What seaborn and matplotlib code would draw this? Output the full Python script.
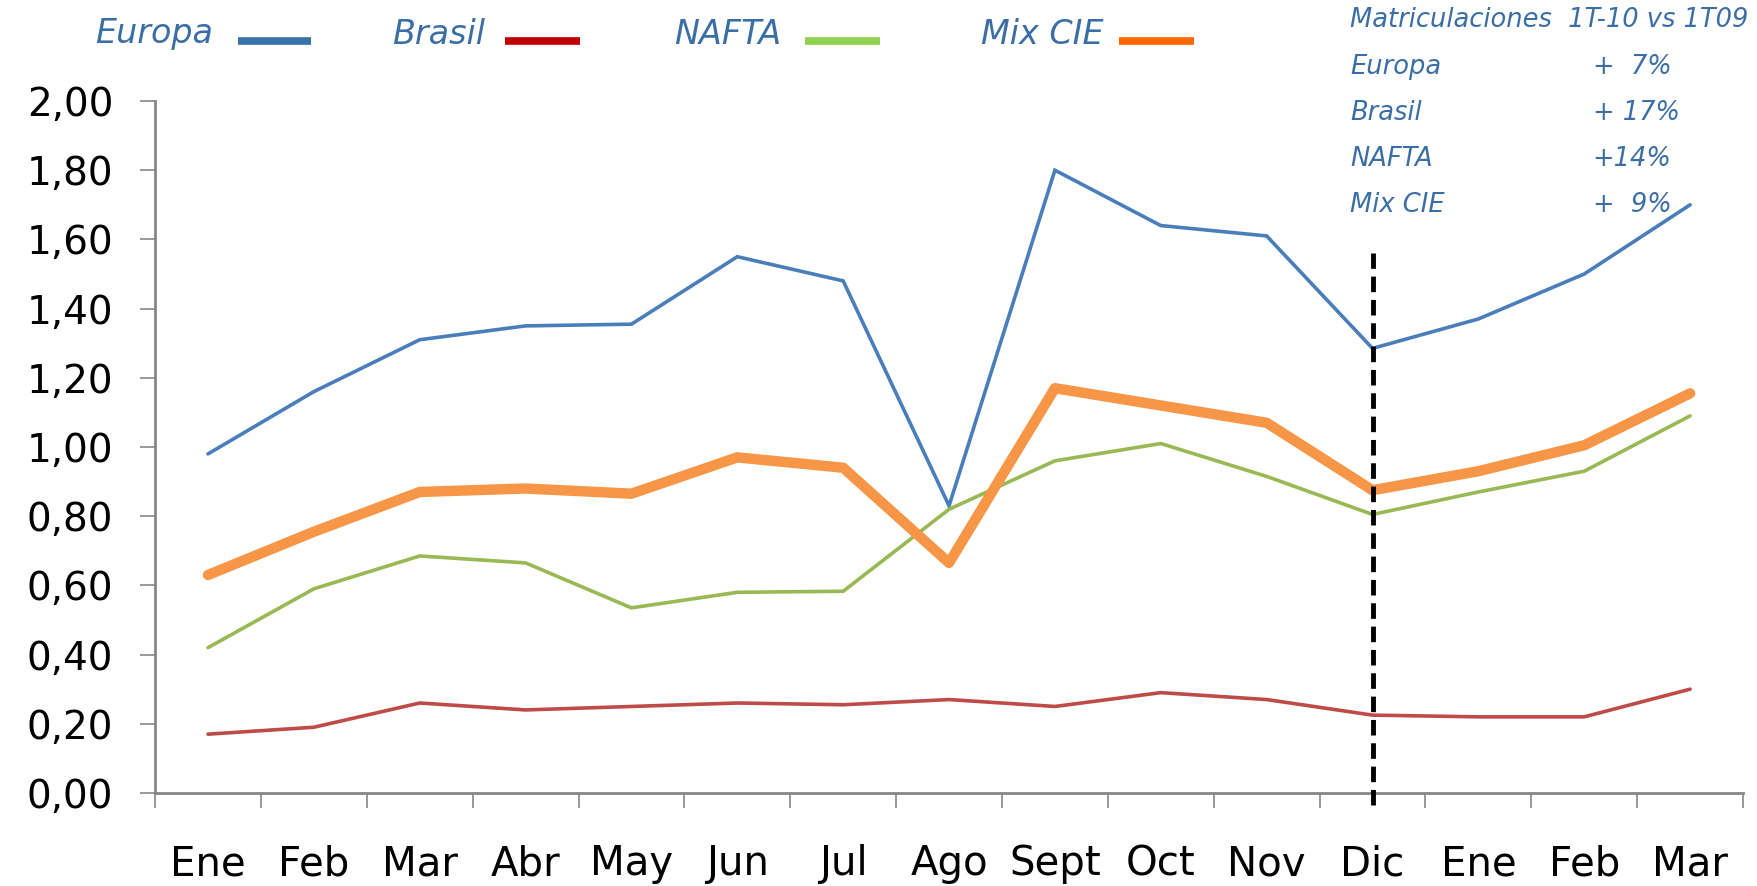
import matplotlib
matplotlib.use("Agg")
import matplotlib.pyplot as plt
from matplotlib.lines import Line2D
import seaborn as sns
import numpy as np
import pandas as pd

months = ["Ene", "Feb", "Mar", "Abr", "May", "Jun", "Jul", "Ago", "Sept",
          "Oct", "Nov", "Dic", "Ene", "Feb", "Mar"]
europa = [0.98, 1.16, 1.31, 1.35, 1.355, 1.55, 1.48, 0.83, 1.80, 1.64,
          1.61, 1.285, 1.37, 1.50, 1.70]
brasil = [0.17, 0.19, 0.26, 0.24, 0.25, 0.26, 0.255, 0.27, 0.25, 0.29,
          0.27, 0.225, 0.22, 0.22, 0.30]
nafta = [0.42, 0.59, 0.685, 0.665, 0.535, 0.58, 0.583, 0.82, 0.96, 1.01,
         0.915, 0.805, 0.87, 0.93, 1.09]
mix_cie = [0.63, 0.755, 0.87, 0.88, 0.865, 0.97, 0.94, 0.665, 1.17, 1.12,
           1.07, 0.875, 0.93, 1.005, 1.155]

series_names = ["Europa", "Brasil", "NAFTA", "Mix CIE"]
line_colors = ["#4A7EBB", "#BE4B48", "#98B954", "#F79646"]
legend_colors = ["#3A72AA", "#C00000", "#92D050", "#FF6600"]
widths = [2.6, 2.6, 2.6, 7.5]

summary_title = "Matriculaciones  1T-10 vs 1T09"
summary_names = ["Europa", "Brasil", "NAFTA", "Mix CIE"]
summary_values = ["+  7%", "+ 17%", "+14%", "+  9%"]

sns.set_style("white")
plt.rcParams["font.family"] = ["DejaVu Sans"]
text_blue = "#3A6EA5"
axis_grey = "#868686"

x = np.arange(len(months))
df = pd.DataFrame({"x": np.tile(x, 4),
                   "valor": europa + brasil + nafta + mix_cie,
                   "serie": np.repeat(series_names, len(months))})

fig = plt.figure(figsize=(17.58, 8.86), dpi=100)
ax = fig.add_axes([0.0882, 0.105, 0.9033, 0.781])

for name, col, lw in zip(series_names, line_colors, widths):
    sns.lineplot(data=df[df.serie == name], x="x", y="valor", color=col,
                 linewidth=lw, ax=ax, legend=False,
                 solid_joinstyle="miter" if lw < 5 else "round")

# separation between the two periods
ax.vlines(11, -0.035, 1.56, colors="black", linestyles=(0, (3.2, 1.6)),
          linewidth=3.5, clip_on=False, zorder=5)

ax.set_xlim(-0.5, len(months) - 0.5)
ax.set_ylim(0, 2.0)
yt = np.arange(0, 2.01, 0.2)
ax.set_yticks(yt)
ax.set_yticklabels([f"{v:.2f}".replace(".", ",") for v in yt],
                   fontsize=28, color="black")
ax.set_xticks(x)
ax.set_xticklabels(months, fontsize=29, color="black")
ax.set_xticks(np.arange(-0.5, len(months)), minor=True)
ax.tick_params(axis="x", which="major", length=0, pad=37)
ax.tick_params(axis="x", which="minor", length=11, width=1.2, color=axis_grey,
               direction="out", bottom=True)
ax.tick_params(axis="y", length=11, width=1.2, color=axis_grey, pad=19,
               direction="out", left=True)
ax.set_xlabel("")
ax.set_ylabel("")
for side in ["top", "right"]:
    ax.spines[side].set_visible(False)
for side in ["left", "bottom"]:
    ax.spines[side].set_color(axis_grey)
    ax.spines[side].set_linewidth(2)

# legend row along the top: label first, then the swatch
W, H = 1758, 886
text_right = [213, 485, 781, 1104]
swatch_x = [(238, 311), (505, 580), (805, 880), (1119, 1194)]
for nm, col, tr, (s0, s1) in zip(series_names, legend_colors, text_right, swatch_x):
    fig.text(tr / W, 1 - 34 / H, nm, fontsize=24, style="italic",
             color=text_blue, ha="right", va="center")
    fig.add_artist(Line2D([s0 / W, s1 / W], [1 - 41 / H, 1 - 41 / H],
                          color=col, linewidth=5.5, solid_capstyle="butt",
                          transform=fig.transFigure))

fig.text(0.768, 0.977, summary_title, fontsize=18.5, style="italic",
         color=text_blue, va="center")
rows_y = [0.924, 0.872, 0.820, 0.769]
for yy, nm, val in zip(rows_y, summary_names, summary_values):
    fig.text(0.768, yy, nm, fontsize=18.5, style="italic", color=text_blue,
             va="center")
    fig.text(0.906, yy, val, fontsize=18.5, style="italic", color=text_blue,
             va="center")

fig.savefig("out.png", dpi=100)
